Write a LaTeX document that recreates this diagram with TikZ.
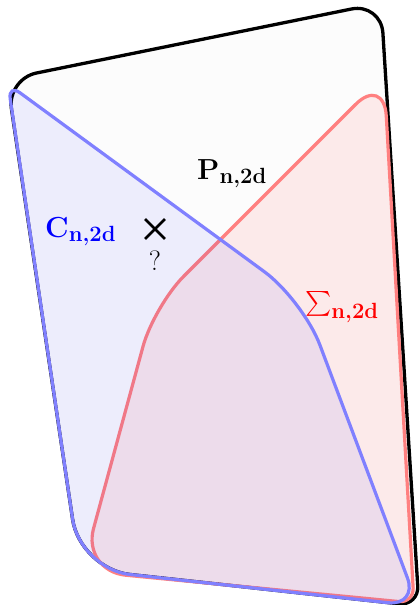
\documentclass[tikz,border=0pt]{standalone}
\usepackage{amsmath}
\usetikzlibrary{calc,shapes.misc}
\newcommand\rcorner[4]{-- ($(#2)!#4!(#1)$) .. controls ($(#2)!0.45*#4!(#1)$) and ($(#2)!0.45*#4!(#3)$) .. ($(#2)!#4!(#3)$)}
\newcommand\subtxt[2]{\raisebox{-#1}{\fontsize{22}{26}\selectfont\bfseries #2}}
\tikzset{
  pset/.style={draw=black, line width=3.3pt, fill=black!1.2},
  cset/.style={draw=blue!50, line width=3.2pt, fill=blue, fill opacity=0.06},
  sset/.style={draw=red!50, line width=3.2pt, fill=red, fill opacity=0.07},
  lbl/.style={inner sep=0pt, anchor=base west, font=\fontsize{29}{34}\selectfont\bfseries},
}
\begin{document}
\begin{tikzpicture}[x=1pt,y=-1pt]
\useasboundingbox (0,0) rectangle (420,605);
% P
\coordinate (P1) at (7,79);
\coordinate (P2) at (381,3);
\coordinate (P3) at (419,606);
\coordinate (P4) at (80,569);
% C
\coordinate (B1) at (8,84);
\coordinate (B2) at (303,300);
\coordinate (B3) at (418,606);
\coordinate (B4) at (80,569);
% Sigma
\coordinate (R1) at (384,76);
\coordinate (R2) at (414,603);
\coordinate (R3) at (82,571);
\coordinate (R4) at (154,306);

\path[pset] ($(P1)!0.5!(P2)$) \rcorner{P1}{P2}{P3}{30pt} \rcorner{P2}{P3}{P4}{20pt}
  \rcorner{P3}{P4}{P1}{50pt} \rcorner{P4}{P1}{P2}{30pt} -- cycle;
\path[sset] ($(R1)!0.5!(R2)$) \rcorner{R1}{R2}{R3}{15pt} \rcorner{R2}{R3}{R4}{44pt}
  \rcorner{R3}{R4}{R1}{42pt} \rcorner{R4}{R1}{R2}{40pt} -- cycle;
\path[cset] ($(B1)!0.5!(B2)$) \rcorner{B1}{B2}{B3}{48pt} \rcorner{B2}{B3}{B4}{30pt}
  \rcorner{B3}{B4}{B1}{50pt} \rcorner{B4}{B1}{B2}{15pt} -- cycle;

\node[lbl] (plabel) at (197,179) {P\subtxt{4pt}{n,2d}};
\node[lbl, text=blue] (clabel) at (45,237) {C\subtxt{4pt}{n,2d}};
\node[lbl, text=red] (slabel) at (305,310) {$\sum$\subtxt{8pt}{n,2d}};
\node[cross out, draw=black, line width=2.8pt, minimum size=17pt, inner sep=0pt] (mark1) at (155,229) {};
\node[inner sep=0pt, font=\fontsize{28}{32}\selectfont] (qmark) at (155,261) {?};
\end{tikzpicture}
\end{document}
